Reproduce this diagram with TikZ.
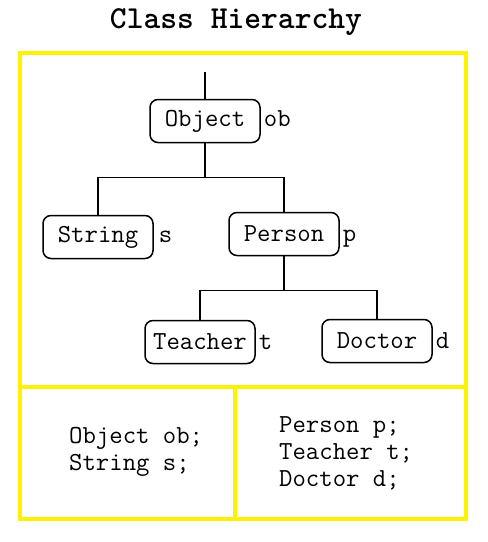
\documentclass[tikz,border=0pt]{standalone}
\usetikzlibrary{positioning}
\begin{document}
\begin{tikzpicture}[x=1pt,y=-1pt,
  cls/.style={draw,rounded corners=8pt,line width=1.5pt,minimum width=110pt,minimum height=43pt,inner sep=0pt,font=\fontsize{26}{27}\selectfont\ttfamily},
  var/.style={inner sep=0pt,anchor=base west,font=\fontsize{26}{27}\selectfont\ttfamily},
  code/.style={inner sep=0pt,anchor=west,align=left,font=\fontsize{26}{27}\selectfont\ttfamily},
  wire/.style={line width=1.5pt},
  frame/.style={draw=yellow,line width=4pt}]
 \useasboundingbox (0,0) rectangle (488,542);
 % title and yellow frame
 \node[font=\fontsize{32}{34}\selectfont\ttfamily\bfseries] (title) at (236,22) {Class Hierarchy};
 \draw[frame] (20,53) rectangle (466,519);
 \draw[frame] (20,387) -- (466,387);
 \draw[frame] (235,387) -- (235,519);
 % class boxes
 \node[cls] (obj) at (205,121) {Object};
 \node[cls] (str) at (98,237) {String};
 \node[cls] (per) at (284,234) {Person};
 \node[cls] (tea) at (200,342) {Teacher};
 \node[cls] (doc) at (377,341) {Doctor};
 % variable names
 \node[var] (obl) at ([xshift=3pt]obj.base east) {ob};
 \node[var] (strl) at ([xshift=5pt]str.base east) {s};
 \node[var] (perl) at ([xshift=3pt]per.base east) {p};
 \node[var] (teal) at ([xshift=3pt]tea.base east) {t};
 \node[var] (docl) at ([xshift=3pt]doc.base east) {d};
 % tree lines
 \coordinate (root) at (205,72);
 \draw[wire] (root) -- (obj.north);
 \draw[wire] (obj.south) -- ++(0,34) coordinate (j1);
 \draw[wire] (j1) -| (str.north);
 \draw[wire] (j1) -| (per.north);
 \draw[wire] (per.south) -- ++(0,34) coordinate (j2);
 \draw[wire] (j2) -| (tea.north);
 \draw[wire] (j2) -| (doc.north);
 % declarations
 \node[code] (decl1) at (69,452) {Object ob;\\String s;};
 \node[code] (decl2) at (279,453) {Person p;\\Teacher t;\\Doctor d;};
\end{tikzpicture}
\end{document}
